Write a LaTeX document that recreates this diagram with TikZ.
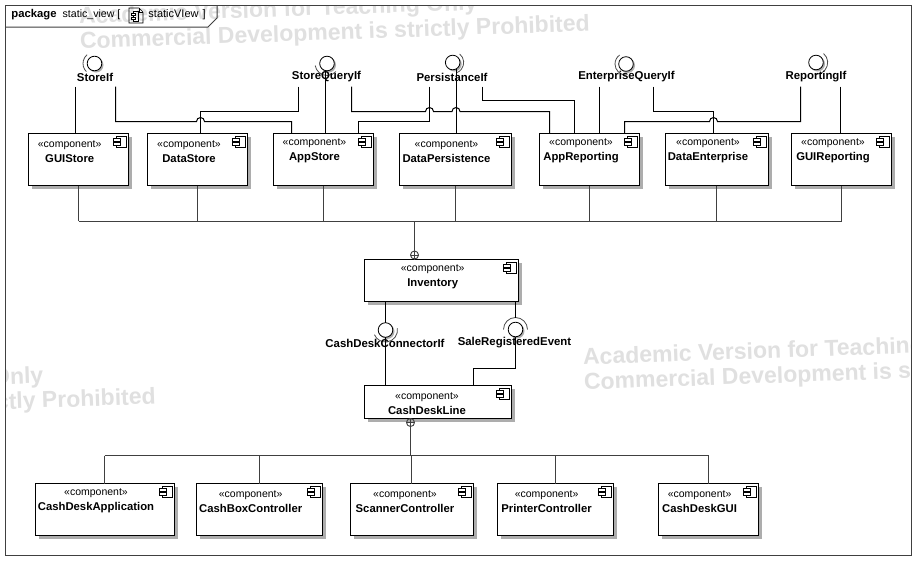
\documentclass[tikz,border=0pt]{standalone}
\usepackage{fontspec}
\setmainfont{Liberation Sans}
\begin{document}
\begin{tikzpicture}[x=1pt,y=-1pt,line width=0.9pt,
 boxst/.style={draw=black,fill=white,anchor=north west,inner sep=0pt,outer sep=0pt,line width=1pt},
 shadowst/.style={fill=black!32,draw=none},
 txt/.style={inner sep=0pt,font=\fontsize{10.5}{15}\selectfont,align=center,anchor=center},
 iflabel/.style={inner sep=0pt,font=\fontsize{11.4}{13}\selectfont\bfseries,anchor=center},
 wmark/.style={font=\fontsize{23}{25}\selectfont\bfseries,text=black!12,rotate=2,inner sep=0pt,anchor=south west,align=left},
 frameline/.style={draw=black!75,line width=1pt},
 bus/.style={draw=black!75,line width=0.9pt},
 conn/.style={draw=black,line width=1pt}]
\useasboundingbox (0,0) rectangle (916,560);
\fill[white] (0,0) rectangle (916,560);
\newcommand{\comp}[7]{% name x1 y1 x2 y2 cx text
 \fill[shadowst] (#2+3,#3+3) rectangle (#4+3,#5+3);
 \node[boxst,minimum width=#4-#2,minimum height=#5-#3] (#1) at (#2,#3) {};
 \begin{scope}[shift={(#4,#3)},line width=0.9pt]
  \draw (-12,2.5) rectangle (-2.5,14);
  \draw[fill=white] (-15.5,5) rectangle (-8.5,8);
  \draw[fill=white] (-15.5,9) rectangle (-8.5,12);
 \end{scope}
 \node[txt] (#1-t) at (#6,#3+17.7) {«component»\\{\fontsize{11.3}{15}\selectfont\textbf{#7}}};
}
\newcommand{\ifc}[6]{% name cx cy startangle endangle radius
 \fill[black!32] (#2+1.5,#3+1.5) circle (7.5);
 \draw[black!70,line width=0.8pt] (#2,#3) ++(#4:#6) arc (#4:#5:#6);
 \draw[fill=white,line width=0.8pt] (#2,#3) circle (7.3);
 \coordinate (#1) at (#2,#3);
}
% watermarks
\begin{scope}
\clip (5.5,5.5) rectangle (911,555);
\node[wmark] (w1) at (80,54) {Academic Version for Teaching Only\\Commercial Development is strictly Prohibited};
\node[wmark] (w2) at (584,395) {Academic Version for Teaching Only\\Commercial Development is strictly Prohibited};
\node[wmark] (w3) at (-354,427) {Academic Version for Teaching Only\\Commercial Development is strictly Prohibited};
\end{scope}
% frame
\draw[frameline] (5.5,5.5) rectangle (911,555);
\draw[frameline] (5.5,27) -- (208,27) -- (217,18) -- (217,5.5);
\node[inner sep=0pt,anchor=west,font=\fontsize{10.6}{13}\selectfont] (title) at (11,15) {{\fontsize{11.3}{13}\selectfont\textbf{package}}\hspace{6pt}static\_view [};
\node[inner sep=0pt,anchor=west,font=\fontsize{11}{13}\selectfont] (title2) at (148,15) {staticVIew\hspace{4pt}]};
\begin{scope}[line width=0.7pt]
 \draw (129,8) -- (139,8) -- (143,12) -- (143,23) -- (129,23) -- cycle;
 \draw (139,8) -- (139,12) -- (143,12);
 \draw (133,11) rectangle (138,21);
 \draw[fill=white] (131,13) rectangle (135,15.5);
 \draw[fill=white] (131,17) rectangle (135,19.5);
\end{scope}
% components
\comp{guistore}{28.5}{133.5}{128.5}{185.5}{69.7}{GUIStore}
\comp{datastore}{147.5}{133.5}{247.5}{185.5}{189}{DataStore}
\comp{appstore}{273.5}{133.5}{373.5}{185.5}{314.5}{AppStore}
\comp{datapers}{399.5}{133.5}{511.5}{185.5}{446.5}{DataPersistence}
\comp{apprep}{539.5}{133.5}{639.5}{185.5}{581}{AppReporting}
\comp{dataent}{665.5}{133.5}{768.5}{185.5}{708}{DataEnterprise}
\comp{guirep}{791.5}{133.5}{891.5}{185.5}{833}{GUIReporting}
\comp{inventory}{364.5}{259.5}{518.5}{301.5}{432.7}{Inventory}
\comp{cdline}{364.5}{385.5}{511.5}{418.5}{427}{CashDeskLine}
\comp{cdapp}{35.5}{483.5}{174.5}{535.5}{96}{CashDeskApplication}
\comp{cbc}{196.5}{483.5}{322.5}{535.5}{250.7}{CashBoxController}
\comp{scan}{350.5}{483.5}{473.5}{535.5}{405}{ScannerController}
\comp{print}{497.5}{483.5}{613.5}{535.5}{546.6}{PrinterController}
\comp{cdgui}{658.5}{483.5}{758.5}{535.5}{699.6}{CashDeskGUI}
% containment buses
\coordinate (top) at (414.5,221.3);
\coordinate (bot) at (410.5,455.5);
\foreach \n/\x in {guistore/78.5,datastore/197.5,appstore/323.5,datapers/455.5,apprep/589.5,dataent/716.5,guirep/841.5}
  \draw[bus] (\n.south -| \x,0) -- (\x,221.3);
\draw[bus] (78.5,221.3) -- (841.5,221.3);
\draw[bus] (top) -- (414.5,251);
\draw[bus] (414.5,255) circle (4);
\draw[bus] (410.5,255) -- (418.5,255);
\draw[bus] (414.5,251) -- (inventory.north -| 414.5,0);
\draw[bus] (410.5,422.5) circle (4);
\draw[bus] (406.5,422.5) -- (414.5,422.5);
\draw[bus] (cdline.south -| 410.5,0) -- (bot);
\draw[bus] (104.5,455.5) -- (708.5,455.5);
\draw[bus] (104.5,455.5) -- (cdapp.north -| 104.5,0);
\draw[bus] (259.5,455.5) -- (cbc.north -| 259.5,0);
\draw[bus] (411.5,455.5) -- (scan.north -| 411.5,0);
\draw[bus] (555.5,455.5) -- (print.north -| 555.5,0);
\draw[bus] (708.5,455.5) -- (cdgui.north -| 708.5,0);
% interfaces
\ifc{storeif}{94.5}{63.5}{135}{230}{11.5}
\ifc{squery}{327}{63.5}{42}{170}{12}
\ifc{pers}{452.7}{62.5}{-51}{70}{11}
\ifc{equery}{626}{64}{90}{235}{11}
\ifc{repif}{816}{62.5}{-50}{100}{11.7}
\ifc{cdcon}{385.5}{330}{-8}{157}{12}
\ifc{sale}{515.5}{329.5}{180}{360}{12}
\node[iflabel] (l1) at (95,77) {StoreIf};
\node[iflabel] (l2) at (326.5,77) {StoreQueryIf};
\node[iflabel] (l3) at (452,77) {PersistanceIf};
\node[iflabel] (l4) at (626.5,77) {EnterpriseQueryIf};
\node[iflabel] (l5) at (816,77) {ReportingIf};
\node[iflabel] (l6) at (385,343) {CashDeskConnectorIf};
\node[iflabel] (l7) at (514.5,343) {SaleRegisteredEvent};
% connectors
\draw[conn] (75.5,86.5) -- (guistore.north -| 75.5,0);
\draw[conn] (115.5,86.5) -- (115.5,121.5) -- (196.5,121.5) arc (180:360:4) -- (291.5,121.5) -- (appstore.north -| 291.5,0);
\draw[conn] (298.5,86.5) -- (298.5,111.5) -- (200.5,111.5) -- (datastore.north -| 200.5,0);
\draw[conn] (325.5,70) -- (appstore.north -| 325.5,0);
\draw[conn] (351.5,86.5) -- (351.5,111.5) -- (425.5,111.5) arc (180:360:4) -- (452,111.5) arc (180:360:4) -- (549.5,111.5) -- (apprep.north -| 549.5,0);
\draw[conn] (429.5,86.5) -- (429.5,121.5) -- (358.5,121.5) -- (appstore.north -| 358.5,0);
\draw[conn] (456,69) -- (datapers.north -| 456,0);
\draw[conn] (482,86.5) -- (482,100.5) -- (574.5,100.5) -- (apprep.north -| 574.5,0);
\draw[conn] (599.5,86.5) -- (apprep.north -| 599.5,0);
\draw[conn] (653.5,86.5) -- (653.5,111.5) -- (713.5,111.5) -- (dataent.north -| 713.5,0);
\draw[conn] (800.5,86.5) -- (800.5,121.5) -- (717.5,121.5) arc (0:-180:4) -- (624.5,121.5) -- (apprep.north -| 624.5,0);
\draw[conn] (840.5,86.5) -- (guirep.north -| 840.5,0);
\draw[conn] (inventory.south -| 385.5,0) -- (385.5,322.7);
\draw[conn] (385.5,337.3) -- (cdline.north -| 385.5,0);
\draw[conn] (inventory.south -| 515.5,0) -- (515.5,317.5);
\draw[conn] (515.5,337) -- (515.5,368.5) -- (473.5,368.5) -- (cdline.north -| 473.5,0);
\end{tikzpicture}
\end{document}
